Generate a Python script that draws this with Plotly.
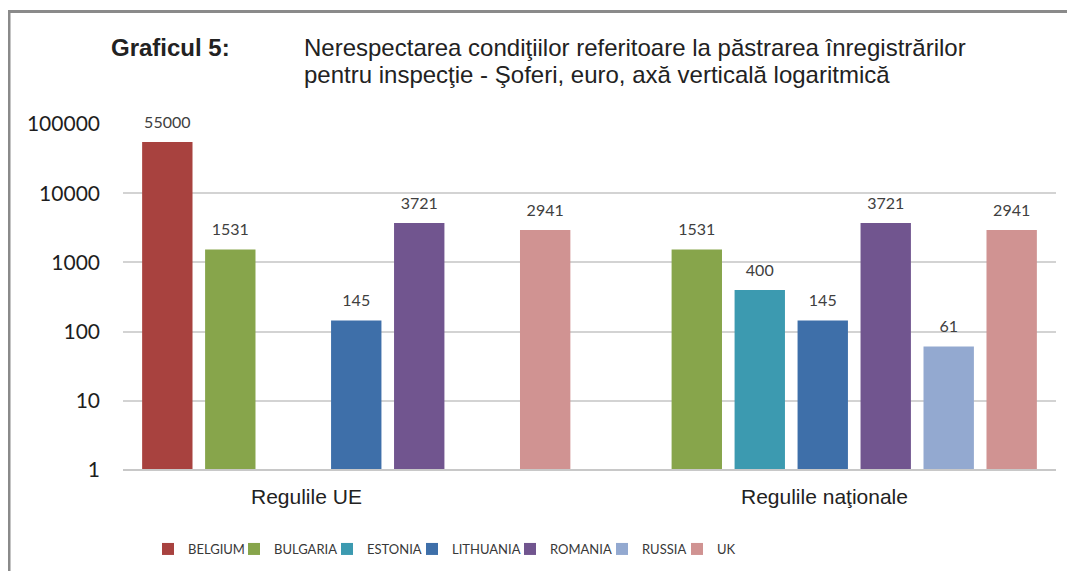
import plotly.graph_objects as go

categories = ["Regulile UE", "Regulile naţionale"]
countries = ["BELGIUM", "BULGARIA", "ESTONIA", "LITHUANIA", "ROMANIA", "RUSSIA", "UK"]
belgium = [55000, None]
bulgaria = [1531, 1531]
estonia = [None, 400]
lithuania = [145, 145]
romania = [3721, 3721]
russia = [None, 61]
uk = [2941, 2941]
series = [belgium, bulgaria, estonia, lithuania, romania, russia, uk]
colors = ["#A8423F", "#87A54B", "#3C9AB0", "#3E6FA9", "#71558F", "#93A9D0", "#D09392"]
tick_vals = [1, 10, 100, 1000, 10000, 100000]
tick_text = ["1", "10", "100", "1000", "10000", "100000"]

# screen-space layout helpers (plot area: x 123..1056, y 124..470 on screen)
PL, PW, PB, PH = 123, 933, 470, 346
def px(x):
    return (x - PL) / PW
def py(y):
    return (PB - y) / PH

legend_square_x = [163, 249, 342, 427, 525, 617, 692]
legend_names = ["legend"] + ["legend%d" % i for i in range(2, 8)]

fig = go.Figure()
for name, vals, col, lg in zip(countries, series, colors, legend_names):
    fig.add_trace(go.Bar(
        x=categories, y=vals, name=name, marker_color=col, marker_line_width=0,
        legend=lg, hoverinfo="x+y+name",
    ))
# value labels (grouped the same way as the bars)
for name, vals in zip(countries, series):
    fig.add_trace(go.Scatter(
        x=categories, y=vals, name=name, mode="markers+text",
        marker=dict(size=15, opacity=0), showlegend=False, hoverinfo="skip",
        text=[("" if v is None else str(v)) for v in vals], textposition="top center",
        textfont=dict(family="Lato, Open Sans, sans-serif", size=16, color="#404040"),
        cliponaxis=False,
    ))

legend_common = dict(orientation="h", xanchor="left", yanchor="middle", y=py(549),
                     font=dict(family="Lato, Open Sans, sans-serif", size=13, color="#383838"),
                     itemwidth=30, bgcolor="rgba(0,0,0,0)", borderwidth=0)
legends = {}
for lg, sx in zip(legend_names, legend_square_x):
    legends[lg] = dict(legend_common, x=px(sx - 15))

# page body has an 8px margin; compensate so the plot sits where intended on screen
fig.update_layout(
    width=1067, height=563,
    margin=dict(l=PL - 8, r=1067 - (PL - 8) - PW, t=124 - 8, b=563 - (PB - 8),
                autoexpand=False),
    paper_bgcolor="white", plot_bgcolor="white",
    barmode="group", bargap=0.055, bargroupgap=0.2,
    scattermode="group", scattergap=0.055,
    showlegend=True,
    xaxis=dict(showticklabels=False, showgrid=False, zeroline=False, showline=False),
    yaxis=dict(type="log", range=[0, 5], tickvals=tick_vals, ticktext=tick_text,
               showgrid=True, gridcolor="#D3D3D3", gridwidth=1.5, zeroline=False,
               showline=False, ticks="", ticklabelstandoff=22,
               tickfont=dict(family="Lato, Open Sans, sans-serif", size=21, color="#1E1E1E")),
    font=dict(family="Liberation Sans, Arial, sans-serif"),
    **legends,
)

# category labels below axis
shifts = [-50, 2]
for cat, sh in zip(categories, shifts):
    fig.add_annotation(x=cat, y=0, xref="x", yref="paper", yanchor="top", yshift=-13,
                       xshift=sh, text=cat, showarrow=False,
                       font=dict(family="Liberation Sans, Arial, sans-serif", size=21, color="#222222"))

# title
title_font = dict(family="Liberation Sans, Arial, sans-serif", size=24, color="#222222")
fig.add_annotation(x=px(109), y=py(47), xref="paper", yref="paper",
                   xanchor="left", yanchor="middle", showarrow=False,
                   text="<b>Graficul 5:</b>", font=title_font)
fig.add_annotation(x=px(302), y=py(47), xref="paper", yref="paper",
                   xanchor="left", yanchor="middle", showarrow=False,
                   text="Nerespectarea condiţiilor referitoare la păstrarea înregistrărilor",
                   font=title_font)
fig.add_annotation(x=px(302), y=py(74), xref="paper", yref="paper",
                   xanchor="left", yanchor="middle", showarrow=False,
                   text="pentru inspecţie - Şoferi, euro, axă verticală logaritmică",
                   font=title_font)

# baseline
fig.add_shape(type="line", xref="paper", yref="paper", x0=0, x1=1, y0=0, y1=0,
              line=dict(color="#C8C8C8", width=2))

# frame (left and top borders)
fig.add_shape(type="line", xref="paper", yref="paper", x0=px(9), x1=px(9), y0=py(10.5), y1=py(580),
              line=dict(color="#8A8A8A", width=3))
fig.add_shape(type="line", xref="paper", yref="paper", x0=px(7.5), x1=px(1085), y0=py(11.5), y1=py(11.5),
              line=dict(color="#8A8A8A", width=3))

fig.write_html("out.html")
